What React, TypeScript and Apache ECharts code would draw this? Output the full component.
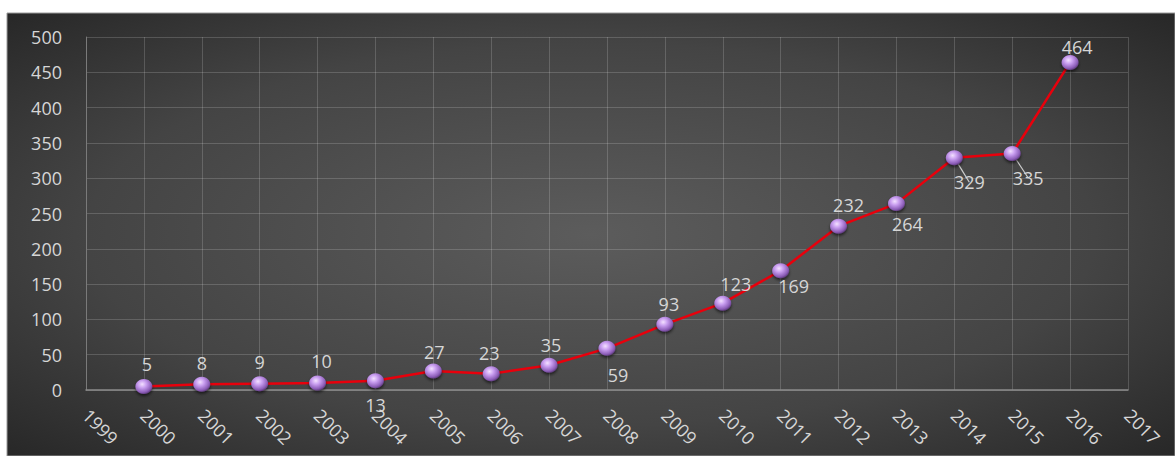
import React, { useEffect, useRef } from "react";
import * as echarts from "echarts";

const years = [2000, 2001, 2002, 2003, 2004, 2005, 2006, 2007, 2008, 2009, 2010, 2011, 2012, 2013, 2014, 2015, 2016];
const counts = [5, 8, 9, 10, 13, 27, 23, 35, 59, 93, 123, 169, 232, 264, 329, 335, 464];
const yTicks = { min: 0, max: 500, step: 50 };
const xTicks = { min: 1999, max: 2017, step: 1 };
// label placement per point: [side, dx, dy]
const labelSides: [string, number, number][] = [
  ["top", 3, -2], ["top", 0, -1], ["top", 0, -1], ["top", 4, -1], ["bottom", 0, 4],
  ["top", 1, 2], ["top", -2, 0], ["top", 2, 0], ["bottom", 11, 6], ["top", 4, 0],
  ["top", 13, 1], ["bottom", 13, -5], ["top", 10, -1], ["bottom", 11, 0],
  ["bottom", 15, 4], ["bottom", 16, 4], ["top", 7, 5],
];
const guideLines = [true, false, false, false, false, false, false, false, false, false, false, false, false, false, true, true, false];

const FONT = "'Open Sans', 'Noto Sans', sans-serif";
const TXT = "#d6d6d6";

export default function App() {
  const ref = useRef<HTMLDivElement>(null);
  useEffect(() => {
    if (!ref.current) return;
    const chart = echarts.init(ref.current, undefined, { renderer: "svg" });
    const markerColor = new echarts.graphic.RadialGradient(0.4, 0.35, 0.7, [
      { offset: 0, color: "#f3e0ff" },
      { offset: 0.35, color: "#c99ef0" },
      { offset: 0.78, color: "#8c5db8" },
      { offset: 1, color: "#53336e" },
    ]);
    const data = counts.map((v, i) => {
      const [side, dx, dy] = labelSides[i];
      return {
        value: [years[i], v],
        label: { position: side, offset: [dx, dy] },
        labelLine: guideLines[i] ? { show: true, lineStyle: { color: "#cfcfcf", width: 1.2 } } : { show: false },
      };
    });
    chart.setOption({
      animation: false,
      backgroundColor: "#ffffff",
      textStyle: { fontFamily: FONT },
      graphic: [
        {
          type: "rect",
          z: -10,
          shape: { x: 7, y: 13, width: 1175 - 7, height: 456 - 13 },
          style: {
            fill: new echarts.graphic.RadialGradient(0.5, 0.5, 0.72, [
              { offset: 0, color: "#5c5c5c" },
              { offset: 0.6, color: "#444444" },
              { offset: 1, color: "#262626" },
            ]),
            stroke: "#9a9a9a",
            lineWidth: 1,
          },
        },
      ],
      grid: { left: 86, right: 47, top: 37, bottom: 66, containLabel: false },
      xAxis: {
        type: "value",
        min: xTicks.min,
        max: xTicks.max,
        interval: xTicks.step,
        axisLine: { show: true, lineStyle: { color: "#8c8c8c", width: 1.5 } },
        axisTick: { show: false },
        splitLine: { show: true, lineStyle: { color: "rgba(255,255,255,0.17)", width: 1 } },
        axisLabel: {
          color: TXT,
          fontSize: 18,
          fontFamily: FONT,
          rotate: -45,
          margin: 22,
          formatter: (v: number) => String(v),
        },
      },
      yAxis: {
        type: "value",
        min: yTicks.min,
        max: yTicks.max,
        interval: yTicks.step,
        axisLine: { show: true, lineStyle: { color: "#7a7a7a", width: 1 } },
        axisTick: { show: false },
        splitLine: { show: true, lineStyle: { color: "rgba(255,255,255,0.17)", width: 1 } },
        axisLabel: { color: TXT, fontSize: 18, fontFamily: FONT, margin: 24 },
      },
      series: [
        {
          type: "line",
          data,
          symbol: "circle",
          symbolSize: [17, 15],
          lineStyle: { color: "#e8000c", width: 2.5 },
          itemStyle: {
            color: markerColor,
            shadowBlur: 3,
            shadowColor: "rgba(0,0,0,0.6)",
            shadowOffsetY: 2,
          },
          label: {
            show: true,
            color: TXT,
            fontSize: 18,
            fontFamily: FONT,
            distance: 4,
          },
          z: 5,
        },
      ],
    });
    return () => chart.dispose();
  }, []);
  return (
    <div
      ref={ref}
      style={{ position: "fixed", left: 0, top: 0, width: 1175, height: 456 }}
    />
  );
}
